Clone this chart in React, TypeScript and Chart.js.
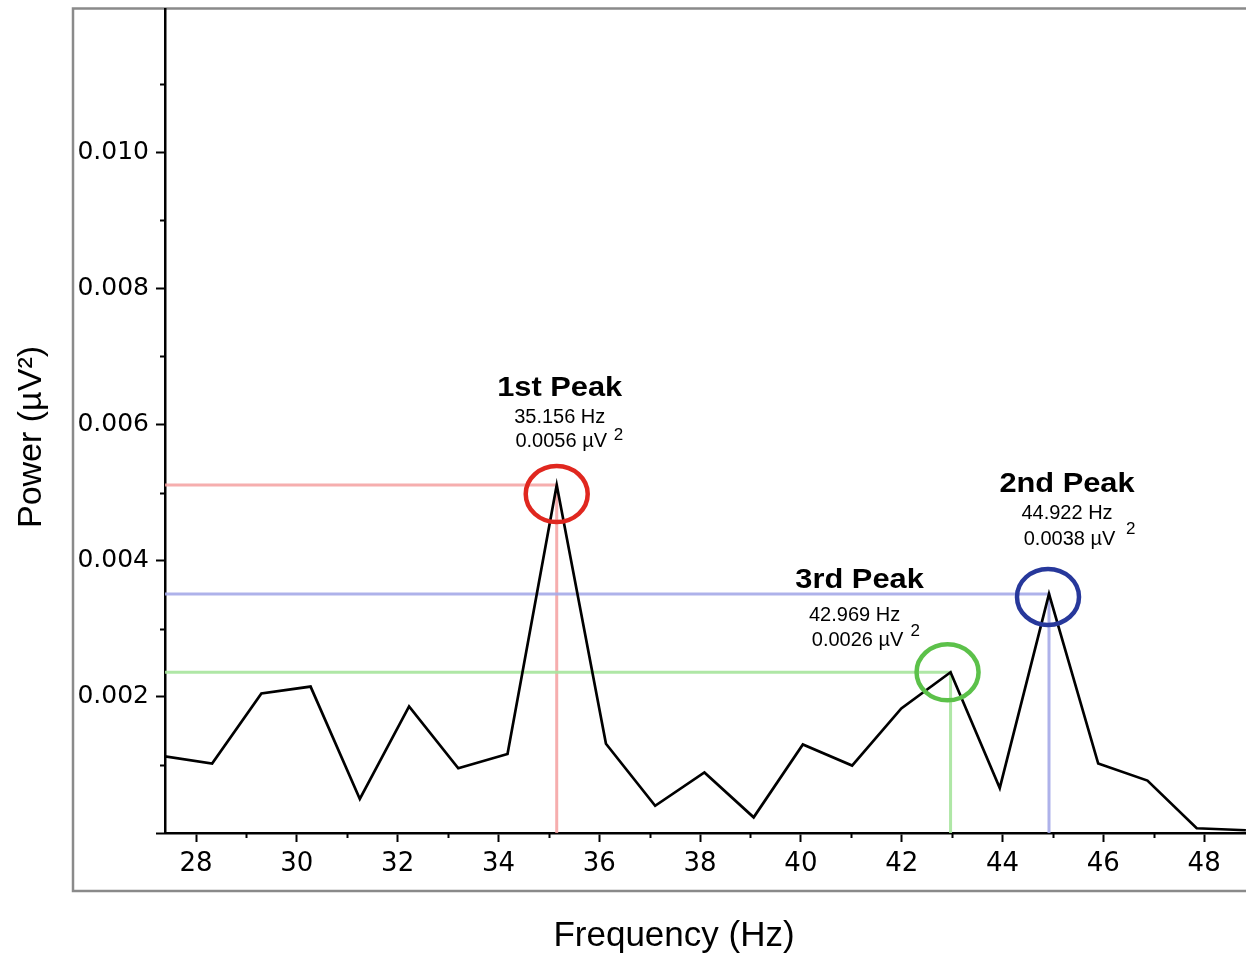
import React, { useEffect, useRef } from 'react';
import { Chart, registerables } from 'chart.js';

Chart.register(...registerables);

// ---- Data ----
const freqHz = [
  27.344, 28.32, 29.297, 30.273, 31.25, 32.227, 33.203, 34.18, 35.156, 36.133, 37.109, 38.086,
  39.063, 40.039, 41.016, 41.992, 42.969, 43.945, 44.922, 45.898, 46.875, 47.852, 48.828,
];
const powerUV2 = [
  0.00113, 0.00102, 0.00205, 0.00215, 0.0005, 0.00186, 0.00095, 0.00116, 0.00511, 0.00131, 0.0004,
  0.00089, 0.00023, 0.0013, 0.00099, 0.00183, 0.00236, 0.00066, 0.00351, 0.00102, 0.00077, 0.00007,
  0.00004,
];

const xMin = 27.385;
const xMax = 48.83;
const yMin = 0;
const yMax = 0.0121;
const xMajorStep = 2;
const yMajorStep = 0.002;
const xMinorTicks = [29, 31, 33, 35, 37, 39, 41, 43, 45, 47];
const yMinorTicks = [0.001, 0.003, 0.005, 0.007, 0.009, 0.011];
const yTopLabel = 0.0105;

const xTitle = 'Frequency (Hz)';
const yTitle = 'Power (µV²)';

const peakNames = ['1st Peak', '2nd Peak', '3rd Peak'];
const peakFreqs = [35.156, 44.922, 42.969];
const peakFreqLabels = ['35.156 Hz', '44.922 Hz', '42.969 Hz'];
const peakPowerLabels = ['0.0056 µV', '0.0038 µV', '0.0026 µV'];
const peakSup = '2';

// ---- Styles (pixel offsets relative to each peak's drawn point) ----
const peakStyles = [
  {
    line: 'rgba(244,160,160,0.85)', circle: '#e0271f',
    cdx: 0, cdy: 9, title: [3, -89], l2: [3, -62], l3: [4.5, -38], sup: [57, -45],
  },
  {
    line: 'rgba(165,170,232,0.9)', circle: '#27389b',
    cdx: -1, cdy: 3, title: [18, -102], l2: [18, -75], l3: [20.5, -49], sup: [77, -60],
  },
  {
    line: 'rgba(166,228,156,0.9)', circle: '#5cc14a',
    cdx: -3, cdy: 0, title: [-91, -84], l2: [-96, -51], l3: [-93, -26], sup: [-40, -36],
  },
];

const FONT = '"Liberation Sans", Arial, Helvetica, sans-serif';
const TICK_FONT = '"DejaVu Sans", Verdana, sans-serif';

const decorPlugin = {
  id: 'decor',
  beforeDraw(chart: any) {
    const ctx = chart.ctx;
    ctx.save();
    ctx.fillStyle = '#fff';
    ctx.fillRect(0, 0, chart.width, chart.height);
    ctx.strokeStyle = '#8a8a8a';
    ctx.lineWidth = 2.5;
    ctx.strokeRect(73, 8.5, 1400, 882.5);
    ctx.restore();
  },
  beforeDatasetsDraw(chart: any) {
    const ctx = chart.ctx;
    const xs = chart.scales.x;
    const ys = chart.scales.y;
    const area = chart.chartArea;
    ctx.save();
    peakFreqs.forEach((f, i) => {
      const idx = freqHz.indexOf(f);
      const v = powerUV2[idx];
      const px = xs.getPixelForValue(f);
      const py = ys.getPixelForValue(v);
      ctx.strokeStyle = peakStyles[i].line;
      ctx.lineWidth = 3;
      ctx.beginPath();
      ctx.moveTo(area.left, py);
      ctx.lineTo(px, py);
      ctx.lineTo(px, area.bottom);
      ctx.stroke();
    });
    ctx.restore();
  },
  afterDraw(chart: any) {
    const ctx = chart.ctx;
    const xs = chart.scales.x;
    const ys = chart.scales.y;
    const area = chart.chartArea;
    ctx.save();
    // minor ticks
    ctx.strokeStyle = '#000';
    ctx.lineWidth = 2;
    ctx.beginPath();
    xMinorTicks.forEach((t) => {
      const x = Math.round(xs.getPixelForValue(t)) + 0.5;
      ctx.moveTo(x, area.bottom);
      ctx.lineTo(x, area.bottom + 5);
    });
    yMinorTicks.forEach((t) => {
      const y = Math.round(ys.getPixelForValue(t)) + 0.5;
      ctx.moveTo(area.left, y);
      ctx.lineTo(area.left - 5, y);
    });
    ctx.stroke();

    // circles and labels
    peakFreqs.forEach((f, i) => {
      const s = peakStyles[i];
      const idx = freqHz.indexOf(f);
      const v = powerUV2[idx];
      const px = xs.getPixelForValue(f);
      const py = ys.getPixelForValue(v);
      ctx.strokeStyle = s.circle;
      ctx.lineWidth = 4.5;
      ctx.beginPath();
      ctx.ellipse(px + s.cdx, py + s.cdy, 31, 28, 0, 0, Math.PI * 2);
      ctx.stroke();

      ctx.fillStyle = '#000';
      ctx.textBaseline = 'alphabetic';
      ctx.textAlign = 'center';
      ctx.save();
      ctx.translate(px + s.title[0], py + s.title[1]);
      ctx.scale(1.1, 1);
      ctx.font = `bold 28px ${FONT}`;
      ctx.fillText(peakNames[i], 0, 0);
      ctx.restore();

      ctx.font = `20px ${FONT}`;
      ctx.fillText(peakFreqLabels[i], px + s.l2[0], py + s.l2[1]);
      ctx.fillText(peakPowerLabels[i], px + s.l3[0], py + s.l3[1]);
      ctx.textAlign = 'left';
      ctx.font = `17px ${FONT}`;
      ctx.fillText(peakSup, px + s.sup[0], py + s.sup[1]);
    });

    // axis titles
    ctx.fillStyle = '#000';
    ctx.font = `35px ${FONT}`;
    ctx.textAlign = 'center';
    ctx.textBaseline = 'alphabetic';
    ctx.fillText(xTitle, 674, 946);
    ctx.save();
    ctx.translate(41, 437);
    ctx.rotate(-Math.PI / 2);
    ctx.font = `34px ${FONT}`;
    ctx.fillText(yTitle, 0, 0);
    ctx.restore();
    ctx.restore();
  },
};

export default function App() {
  const canvasRef = useRef<HTMLCanvasElement | null>(null);

  useEffect(() => {
    const canvas = canvasRef.current;
    if (!canvas) return;
    const chart = new Chart(canvas, {
      type: 'line',
      data: {
        datasets: [
          {
            data: freqHz.map((f, i) => ({ x: f, y: powerUV2[i] })),
            borderColor: '#000',
            borderWidth: 2.7,
            pointRadius: 0,
            tension: 0,
            fill: false,
          },
        ],
      },
      options: {
        responsive: false,
        animation: false,
        devicePixelRatio: 1,
        layout: { padding: { top: 9, left: 0, right: 0, bottom: 0 } },
        plugins: { legend: { display: false }, tooltip: { enabled: false } },
        events: [],
        scales: {
          x: {
            type: 'linear',
            min: xMin,
            max: xMax,
            grid: { drawOnChartArea: false, tickLength: 9, tickWidth: 2, tickColor: '#000' },
            border: { color: '#000', width: 2.5 },
            ticks: {
              stepSize: xMajorStep,
              includeBounds: false,
              padding: 7,
              color: '#000',
              font: { family: TICK_FONT, size: 26 },
              maxRotation: 0,
              callback: (v: any) => String(Math.round(Number(v))),
            },
            afterFit: (scale: any) => {
              scale.height = 121;
              scale.paddingLeft = 0;
              scale.paddingRight = 0;
            },
          },
          y: {
            type: 'linear',
            min: yMin,
            max: yMax,
            grid: { drawOnChartArea: false, tickLength: 9, tickWidth: 2, tickColor: '#000' },
            border: { color: '#000', width: 2.5 },
            ticks: {
              stepSize: yMajorStep,
              includeBounds: false,
              padding: 7,
              color: '#000',
              font: { family: TICK_FONT, size: 25 },
              callback: (v: any) => (Number(v) === 0 ? '' : Number(v).toFixed(3)),
            },
            afterBuildTicks: (scale: any) => {
              scale.ticks = scale.ticks.filter((t: any) => t.value <= yTopLabel);
            },
            afterFit: (scale: any) => {
              scale.width = 165;
              scale.paddingTop = 0;
              scale.paddingBottom = 0;
            },
          },
        },
      },
      plugins: [decorPlugin],
    });
    return () => chart.destroy();
  }, []);

  return (
    <div style={{ position: 'absolute', left: 0, top: 0, width: 1246, height: 954 }}>
      <canvas ref={canvasRef} width={1246} height={954} style={{ display: 'block' }} />
    </div>
  );
}
